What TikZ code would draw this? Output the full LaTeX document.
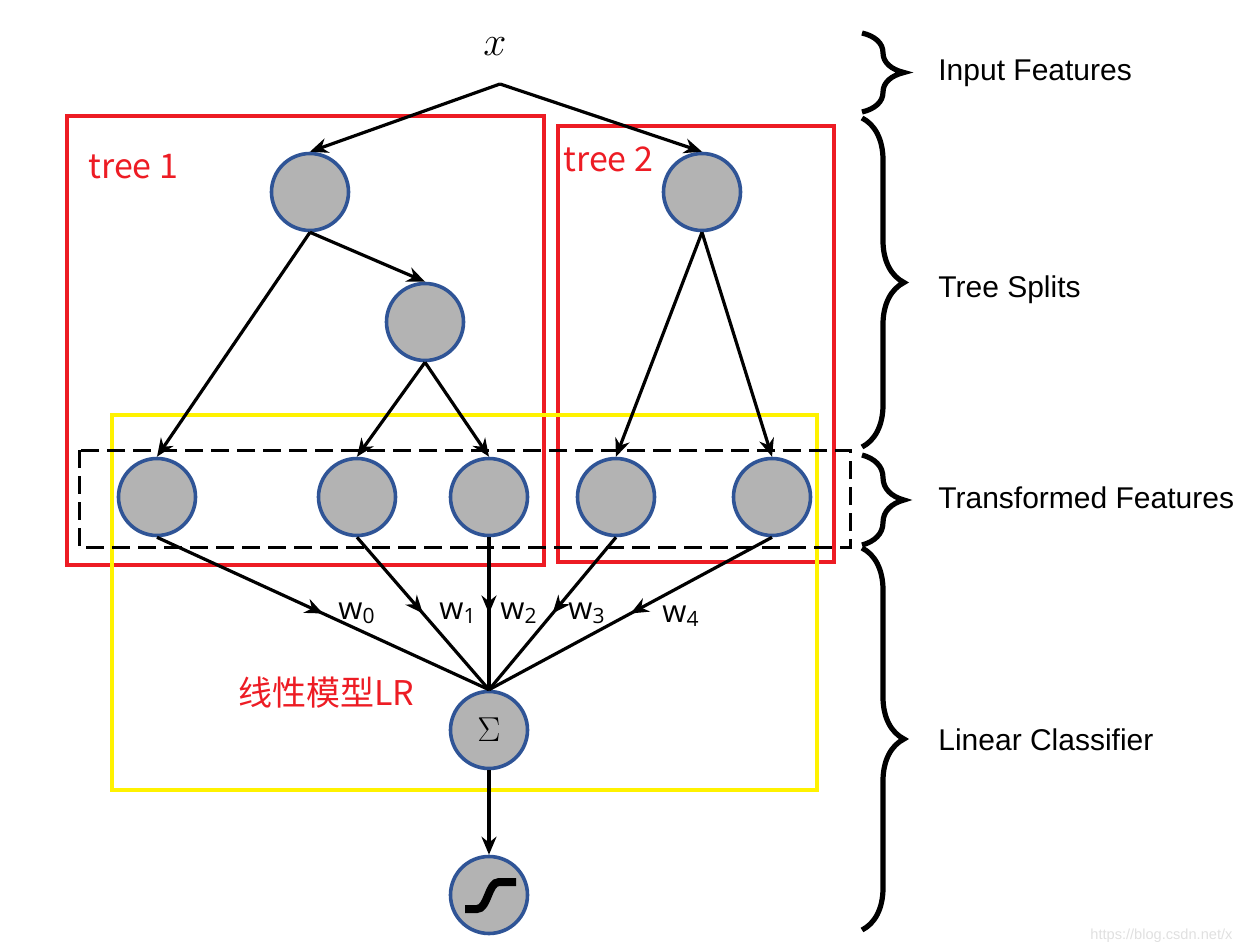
\documentclass[tikz,border=0pt]{standalone}
\usepackage{fontspec}
\setmainfont{Liberation Sans}
\newfontfamily\cjkfont{Noto Sans CJK SC}
\newfontfamily\wfont{Open Sans}
\usetikzlibrary{arrows.meta,positioning,decorations.pathreplacing,decorations.markings}
\definecolor{nodefill}{HTML}{B3B3B3}
\definecolor{nodeline}{HTML}{2F5496}
\definecolor{boxred}{HTML}{ED1C24}
\definecolor{boxyellow}{HTML}{FFF200}
\newcommand{\wsub}[1]{w\raisebox{-0.3ex}{\fontsize{10.5}{10.5}\selectfont #1}}

\begin{document}
\begin{tikzpicture}[x=0.5pt,y=-0.5pt,unit/.style={circle,draw=nodeline,fill=nodefill,line width=1.8pt,minimum size=38.5pt,inner sep=0pt},arr/.style={-{Stealth[length=9pt,width=7.5pt]},line width=1.6pt},midarr/.style={line width=1.6pt,postaction={decorate},decoration={markings,mark=at position 0.5 with {\arrow{Stealth[length=9pt,width=7.5pt]}}}},frame/.style={line width=2pt},curly/.style={decorate,decoration={brace,amplitude=21pt},line width=2.6pt},lab/.style={font=\fontsize{15}{17}\selectfont,anchor=base west,inner sep=0pt},wlab/.style={font=\wfont\fontsize{15.5}{17}\selectfont,anchor=base west,inner sep=0pt},redlab/.style={font=\cjkfont\fontsize{17}{19}\selectfont,text=boxred,anchor=base west,inner sep=0pt}]
\useasboundingbox (0,0) rectangle (1244,942);
% boxes
\draw[frame,boxred] (67,116) rectangle (544,565);
\draw[frame,boxred] (558,126) rectangle (834,562);
\draw[frame,boxyellow] (112,415) rectangle (817,790);
\draw[line width=1.5pt,dash pattern=on 9pt off 4pt] (79,450) rectangle (850,547);
% nodes
\node[font=\fontsize{20}{22}\selectfont] (xin) at (495,47) {$x$};
\coordinate (xsplit) at (500,84);
\node[unit] (root1) at (310,192) {};
\node[unit] (split1) at (425,322) {};
\node[unit] (root2) at (702,192) {};
\node[unit] (leaf1) at (157,497) {};
\node[unit] (leaf2) at (357,497) {};
\node[unit] (leaf3) at (489,497) {};
\node[unit] (leaf4) at (616,497) {};
\node[unit] (leaf5) at (772,497) {};
\node[unit,font=\fontsize{16}{18}\selectfont] (sum) at (489,730) {$\Sigma$};
\node[unit] (sigm) at (489,895) {};
\draw[line width=4pt] ([shift={(-24,14)}]sigm.center) -- ([shift={(-12,14)}]sigm.center) .. controls ([shift={(-1,14)}]sigm.center) and ([shift={(-1,-13)}]sigm.center) .. ([shift={(10,-13)}]sigm.center) -- ([shift={(27,-13)}]sigm.center);
% connectors
\draw[arr] (xsplit)--(root1.north);\draw[arr] (xsplit)--(root2.north);
\draw[arr] (root1.south)--(leaf1.north);\draw[arr] (root1.south)--(split1.north);
\draw[arr] (split1.south)--(leaf2.north);\draw[arr] (split1.south)--(leaf3.north);
\draw[arr] (root2.south)--(leaf4.north);\draw[arr] (root2.south)--(leaf5.north);
\draw[midarr] (leaf1.south)--(sum.north);\draw[midarr] (leaf2.south)--(sum.north);\draw[midarr] (leaf3.south)--(sum.north);\draw[midarr] (leaf4.south)--(sum.north);\draw[midarr] (leaf5.south)--(sum.north);
\draw[arr] (sum.south)--(sigm.north);
% weights
\node[wlab] (w0) at (338,619) {\wsub{0}};
\node[wlab] (w1) at (439,619) {\wsub{1}};
\node[wlab] (w2) at (500,619) {\wsub{2}};
\node[wlab] (w3) at (568,619) {\wsub{3}};
\node[wlab] (w4) at (662,622) {\wsub{4}};
% red labels
\node[redlab] (t1lab) at (88,178) {tree 1};
\node[redlab] (t2lab) at (563,171) {tree 2};
\node[redlab] (lrlab) at (238,705) {线性模型LR};
% braces and layer names
\draw[curly] (862,33)--(862,112);
\draw[curly] (862,118)--(862,447);
\draw[curly] (862,455)--(862,545);
\draw[curly] (862,548)--(862,930);
\node[lab] (inlab) at (938,80) {Input Features};
\node[lab] (splab) at (938,297) {Tree Splits};
\node[lab] (trlab) at (938,508) {Transformed Features};
\node[lab] (lclab) at (938,750) {Linear Classifier};
\node[font=\fontsize{7.3}{8}\selectfont,text=black!12,anchor=base west,inner sep=0pt] (mark) at (1090,939) {https://blog.csdn.net/x};
\end{tikzpicture}
\end{document}
